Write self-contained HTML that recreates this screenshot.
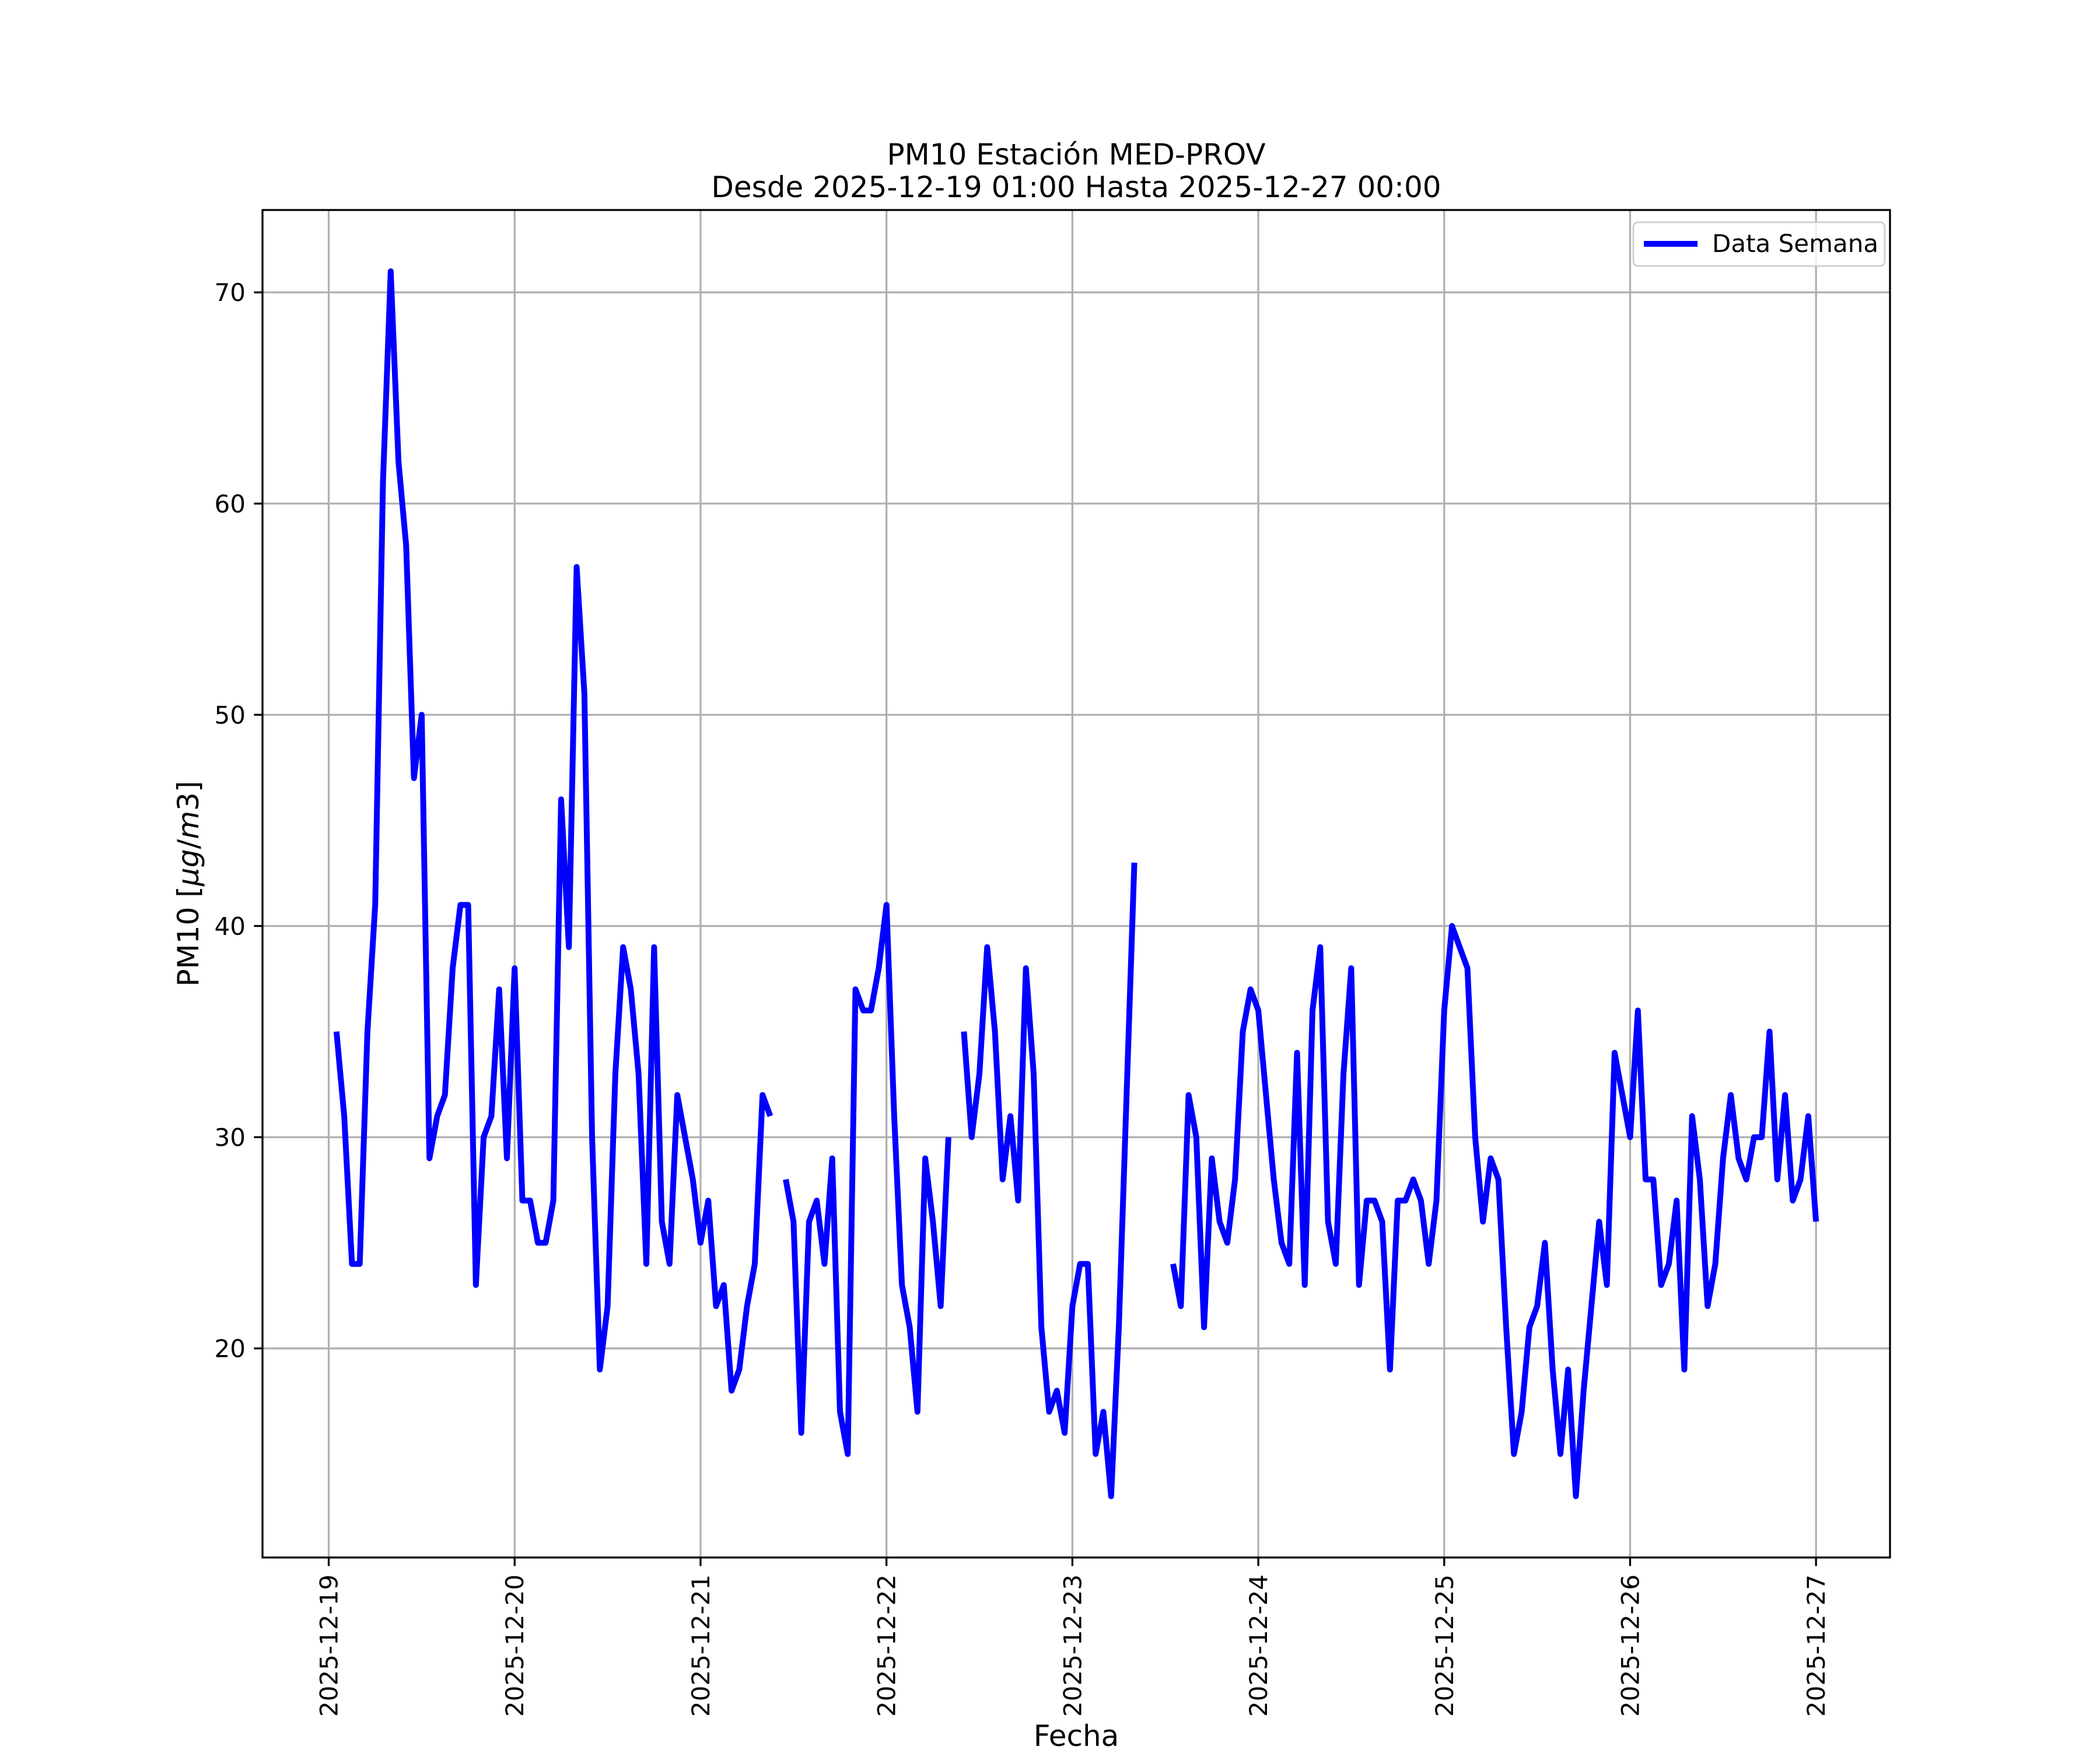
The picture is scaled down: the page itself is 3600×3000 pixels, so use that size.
<!DOCTYPE html>
<html><head><meta charset="utf-8"><style>
html,body{margin:0;padding:0;background:#fff}
svg{display:block}
text{font-family:"DejaVu Sans","Liberation Sans",sans-serif;fill:#000}
</style></head><body>
<svg id="chart" width="3600" height="3000" viewBox="0 0 3600 3000" xmlns="http://www.w3.org/2000/svg">
<rect x="0" y="0" width="3600" height="3000" fill="#fff"/>
<g id="grid"></g>
<g id="series"></g>
<rect x="450" y="360" width="2790" height="2310" fill="none" stroke="#000" stroke-width="3.3"/>
<g id="ticks"></g>
<text x="1845" y="282" font-size="50" text-anchor="middle">PM10 Estación MED-PROV</text>
<text x="1845" y="338" font-size="50" text-anchor="middle">Desde 2025-12-19 01:00 Hasta 2025-12-27 00:00</text>
<text transform="translate(340,1515) rotate(-90)" font-size="50" text-anchor="middle">PM10 [<tspan font-style="italic">μg</tspan>/<tspan font-style="italic">m</tspan>3]</text>
<text x="1845" y="2993" font-size="50" text-anchor="middle">Fecha</text>
<g>
<rect x="2800" y="381" width="431" height="75" rx="8" fill="#fff" fill-opacity="0.8" stroke="#d0d0d0" stroke-width="3"/>
<line x1="2818" y1="418" x2="2910" y2="418" stroke="#0000ff" stroke-width="10"/>
<text x="2935" y="432" font-size="42">Data Semana</text>
</g>
</svg>
<script>
const dayLabels = ["2025-12-19","2025-12-20","2025-12-21","2025-12-22","2025-12-23","2025-12-24","2025-12-25","2025-12-26","2025-12-27"];
const yTicks = [20,30,40,50,60,70];
const day19 = [35,31,24,24,35,41,61,71,62,58,47,50,29,31,32,38,41,41,23,30,31,37,29,38];
const day20 = [27,27,25,25,27,46,39,57,51,30,19,22,33,39,37,33,24,39,26,24,32,30,28,25];
const day21 = [27,22,23,18,19,22,24,32,31,null,28,26,16,26,27,24,29,17,15,37,36,36,38,41];
const day22 = [31,23,21,17,29,26,22,30,null,35,30,33,39,35,28,31,27,38,33,21,17,18,16,22];
const day23 = [24,24,15,17,13,21,32,43,null,null,null,null,24,22,32,30,21,29,26,25,28,35,37,36];
const day24 = [32,28,25,24,34,23,36,39,26,24,33,38,23,27,27,26,19,27,27,28,27,24,27,36];
const day25 = [40,39,38,30,26,29,28,21,15,17,21,22,25,19,15,19,13,18,22,26,23,34,32,30];
const day26 = [36,28,28,23,24,27,19,31,28,22,24,29,32,29,28,30,30,35,28,32,27,28,31,26];

const NS = "http://www.w3.org/2000/svg";
const values = [].concat(day19,day20,day21,day22,day23,day24,day25,day26);
const L=450,R=3240,T=360,B=2670;
const tFirst = 1/24, tLast = values.length/24;
const span = tLast - tFirst;
const xMin = tFirst - 0.05*span, xMax = tLast + 0.05*span;
const nums = values.filter(v=>v!==null);
const vMin = Math.min(...nums), vMax = Math.max(...nums);
const yMin = vMin - 0.05*(vMax-vMin), yMax = vMax + 0.05*(vMax-vMin);
const xs = d => L + (d - xMin)/(xMax - xMin)*(R-L);
const ys = v => B - (v - yMin)/(yMax - yMin)*(B-T);

const grid = document.getElementById('grid');
const ticks = document.getElementById('ticks');
function mk(tag, attrs, parent){const e=document.createElementNS(NS,tag);for(const k in attrs)e.setAttribute(k,attrs[k]);parent.appendChild(e);return e;}

dayLabels.forEach((lab,i)=>{
  const x = xs(i);
  const g = mk('line',{x1:x,y1:T,x2:x,y2:B,stroke:'#b0b0b0','stroke-width':3.3},grid);
  
  
  const tk = mk('line',{x1:x,y1:B,x2:x,y2:B+14.6,stroke:'#000','stroke-width':3.3},ticks);
  
  
  const t = mk('text',{transform:`translate(${x+15},${B+29}) rotate(-90)`,'font-size':42,'text-anchor':'end'},ticks);
  t.textContent = lab;
  
  
});
yTicks.forEach(v=>{
  const y = ys(v);
  const g = mk('line',{x1:L,y1:y,x2:R,y2:y,stroke:'#b0b0b0','stroke-width':3.3},grid);
  
  
  const tk = mk('line',{x1:L-14.6,y1:y,x2:L,y2:y,stroke:'#000','stroke-width':3.3},ticks);
  
  
  const t = mk('text',{x:L-29,y:y+15,'font-size':42,'text-anchor':'end'},ticks);
  t.textContent = String(v);
  
  
});

const series = document.getElementById('series');
let seg = [];
function flush(){
  if(seg.length>1){
    const p = mk('polyline',{points:seg.join(' '),fill:'none',stroke:'#0000ff','stroke-width':10,'stroke-linejoin':'round','stroke-linecap':'butt'},series);
    
    
  }
  seg=[];
}
values.forEach((v,i)=>{
  if(v===null){flush();return;}
  seg.push(xs((i+1)/24).toFixed(1)+','+ys(v).toFixed(1));
});
flush();
</script>
</body></html>
